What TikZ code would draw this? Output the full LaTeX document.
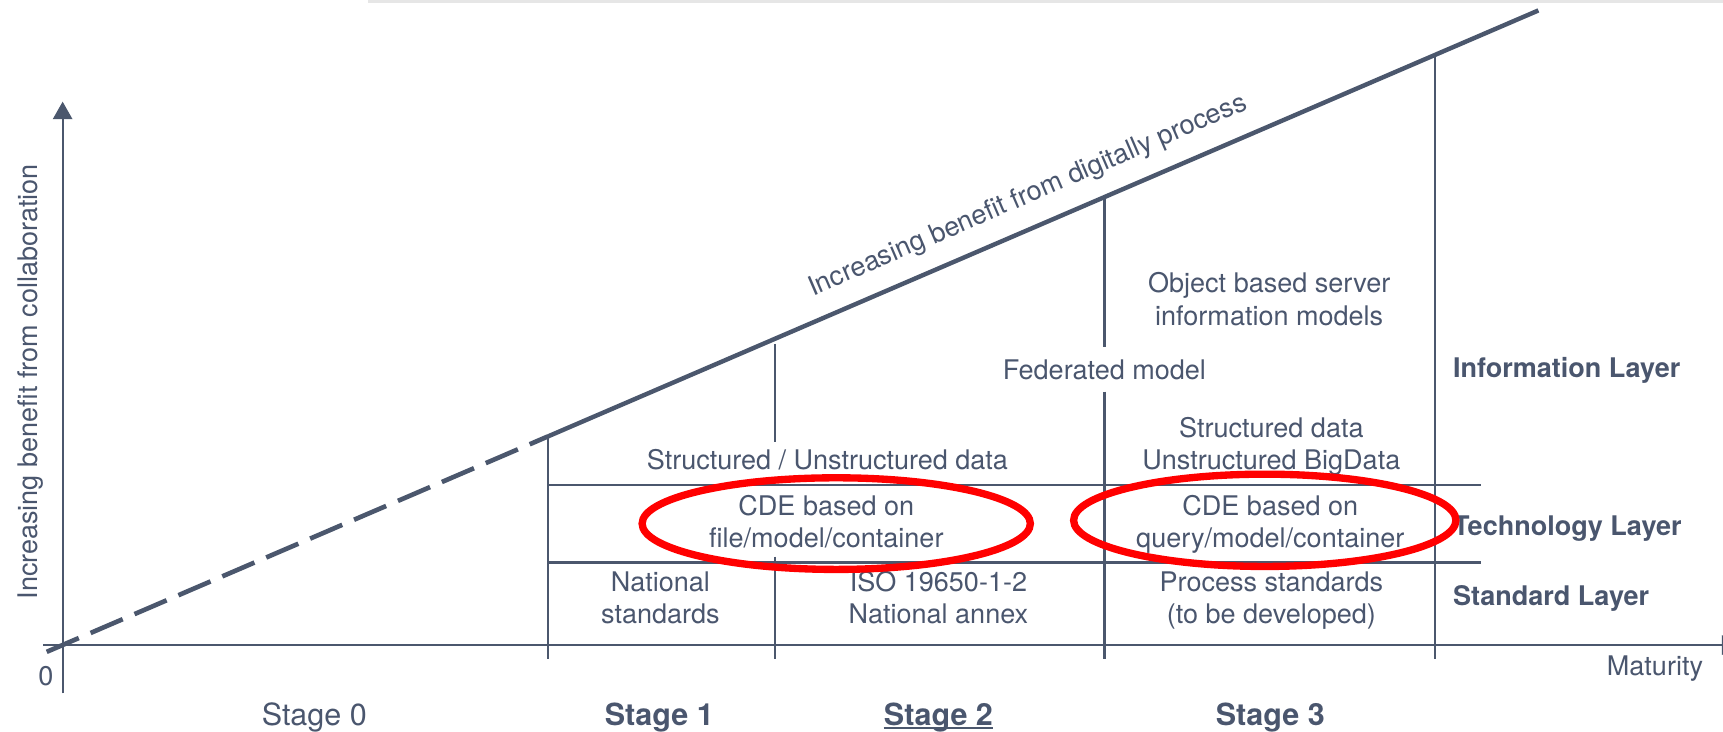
\documentclass[tikz,border=0pt]{standalone}
\usepackage{fontspec}
\setmainfont{TeX Gyre Heros}
\usetikzlibrary{arrows.meta}
\definecolor{slate}{HTML}{4A566E}
\definecolor{slateline}{HTML}{4B576D}
\definecolor{hlred}{HTML}{FF0000}
\definecolor{topgray}{HTML}{E6E6E6}
\begin{document}
\begin{tikzpicture}[x=0.02cm,y=-0.02cm,
  txt/.style={text=slate, inner sep=0pt, font=\fontsize{14}{16.7}\selectfont, anchor=base},
  boldlbl/.style={txt, font=\fontsize{14}{16.7}\selectfont\bfseries},
  stagelbl/.style={txt, font=\fontsize{15.8}{18}\selectfont\bfseries},
  gridline/.style={draw=slateline, line width=1.2pt},
  axisline/.style={draw=slateline, line width=1.1pt},
  benefit/.style={draw=slateline, line width=2.3pt},
  hlring/.style={draw=hlred, line width=3.8pt}
]
\useasboundingbox (0,0) rectangle (1568,665.24);

% top thin gray line
\coordinate (tg0) at (335,1.4);
\coordinate (tg1) at (1568,1.4);
\draw[topgray, line width=1.5pt] (tg0) -- (tg1);

% axes
\coordinate (yb) at (57,631);
\coordinate (yt) at (57,92.5);
\coordinate (xl) at (39.5,587);
\coordinate (xr) at (1583,587);
\draw[axisline, -{Triangle[length=0.32cm,width=0.352cm]}] (yb) -- (yt);
\draw[axisline, -{Triangle[length=0.32cm,width=0.352cm]}] (xl) -- (xr);

% benefit line
\coordinate (d0) at (42.5,593.2);
\coordinate (J) at (499,397);
\coordinate (T) at (1400,9.5);
\draw[slateline, line width=2.4pt, dash pattern=on 0.636cm off 0.234cm] (d0) -- (J);
\draw[benefit] (J) -- (T);

% grid verticals
\coordinate (v1b) at (499,600);
\coordinate (v2t) at (705,313);
\coordinate (v2m1) at (705,402);
\coordinate (v2m2) at (705,506.5);
\coordinate (v2b) at (705,600);
\coordinate (v3t) at (1005,179);
\coordinate (v3m1) at (1005,315.5);
\coordinate (v3m2) at (1005,356.5);
\coordinate (v3b) at (1005,600);
\coordinate (v4t) at (1306,48);
\coordinate (v4b) at (1306,600);
\draw[gridline] (J) -- (v1b);
\draw[gridline] (v2t) -- (v2m1);
\draw[gridline] (v2m2) -- (v2b);
\draw[gridline] (v3t) -- (v3m1);
\draw[gridline] (v3m2) -- (v3b);
\draw[gridline] (v4t) -- (v4b);

% grid horizontals
\coordinate (h1l) at (499,441.5);
\coordinate (h1r) at (1348,441.5);
\coordinate (h2l) at (499,512);
\coordinate (h2r) at (1348,512);
\draw[gridline] (h1l) -- (h1r);
\draw[gridline] (h2l) -- (h2r);

% texts
\node[txt] (fed) at (1005,345) {Federated model};
\node[txt] (obj1) at (1155,266.5) {Object based server};
\node[txt] (obj2) at (1155,295.8) {information models};
\node[txt] (sud) at (753,427.7) {Structured / Unstructured data};
\node[txt] (sd1) at (1157,398) {Structured data};
\node[txt] (sd2) at (1157,427.7) {Unstructured BigData};
\node[txt] (cdeA1) at (752,468.7) {CDE based on};
\node[txt] (cdeA2) at (752,498) {file/model/container};
\node[txt] (cdeB1) at (1156,468.7) {CDE based on};
\node[txt] (cdeB2) at (1156,498) {query/model/container};
\node[txt] (nat1) at (601,538.4) {National};
\node[txt] (nat2) at (601,567.2) {standards};
\node[txt] (iso1) at (854,538.4) {ISO 19650-1-2};
\node[txt] (iso2) at (854,567.2) {National annex};
\node[txt] (ps1) at (1157,538.4) {Process standards};
\node[txt] (ps2) at (1157,567.2) {(to be developed)};
\node[boldlbl, anchor=base west] (infL) at (1322,343.4) {Information Layer};
\node[boldlbl, anchor=base west] (techL) at (1322,487) {Technology Layer};
\node[boldlbl, anchor=base west] (stdL) at (1322,550.6) {Standard Layer};
\node[txt, anchor=base west] (mat) at (1462,614.3) {Maturity};
\node[txt] (zero) at (41.7,624) {0};
\node[txt, font=\fontsize{15.8}{18}\selectfont] (s0) at (286,660) {Stage 0};
\node[stagelbl] (s1) at (600,660) {Stage 1};
\node[stagelbl] (s2) at (854,660) {Stage 2};
\node[stagelbl] (s3) at (1156,660) {Stage 3};
\draw[slateline, line width=1.1pt] ([yshift=-0.05cm]s2.base west) -- ([yshift=-0.05cm]s2.base east);
\node[txt, rotate=90] (ylab) at (34,347.5) {Increasing benefit from collaboration};
\node[txt, rotate=23.3] (dlab) at (938,184.3) {Increasing benefit from digitally process};

% red highlight ellipses
\draw[hlring] (761,476.5) ellipse [x radius=3.534cm, y radius=0.834cm];
\draw[hlring] (1151,473.5) ellipse [x radius=3.48cm, y radius=0.84cm];
\end{tikzpicture}
\end{document}
